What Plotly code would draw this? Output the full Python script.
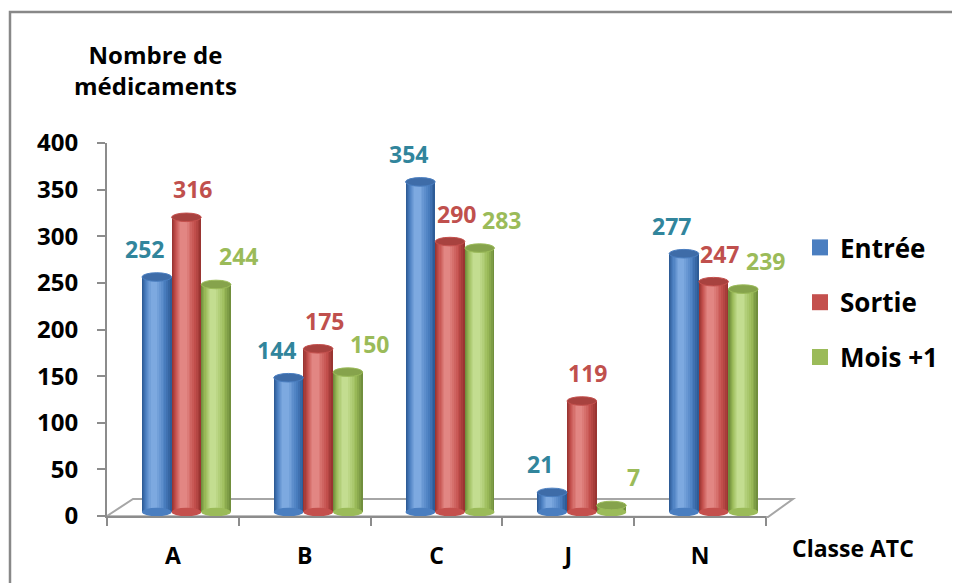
import plotly.graph_objects as go

categories = ["A", "B", "C", "J", "N"]
entree = [252, 144, 354, 21, 277]
sortie = [316, 175, 290, 119, 247]
mois_plus_1 = [244, 150, 283, 7, 239]
series_names = ["Entrée", "Sortie", "Mois +1"]
y_ticks = [0, 50, 100, 150, 200, 250, 300, 350, 400]

# ---- style ----
FONT = "Open Sans"
OFF = 8                                   # default page body margin
W_PX, H_PX = 960 - OFF, 583 - OFF
L, T = 107 - OFF, 143 - OFF
R, B = W_PX - (766 - OFF), H_PX - (516 - OFF)
PW, PH = W_PX - L - R, H_PX - T - B
YMAX = 400
PX_PER_UNIT = PH / YMAX
DEPTH_UNITS = 4 / PX_PER_UNIT          # bars sit a bit "behind" the axis
BAR_W = 0.225
offsets = [-0.235, -0.01, 0.215]
label_shift = [-12, 6, 22]
label_colors = ["#31859C", "#C0504D", "#9BBB59"]
dark = ["#2E5C97", "#9A3532", "#718F3D"]
base = ["#4A7EC0", "#C4504D", "#9BBB59"]
light = ["#7DA9E0", "#E28683", "#C3DD90"]
top_col = ["#3E6CA8", "#A8423F", "#86A34C"]
values = [entree, sortie, mois_plus_1]


def hex2rgb(h):
    h = h.lstrip("#")
    return tuple(int(h[i:i + 2], 16) for i in (0, 2, 4))


def mix(c1, c2, t):
    a, b = hex2rgb(c1), hex2rgb(c2)
    return "rgb(%d,%d,%d)" % tuple(round(a[i] + (b[i] - a[i]) * t) for i in range(3))


def shade(s, t):
    if t < 0.4:
        return mix(dark[s], base[s], t / 0.4)
    return mix(base[s], light[s], (t - 0.4) / 0.6)


def px2paper(px, py):
    """screen pixel of the reference -> paper coords"""
    return ((px - OFF) - L) / PW, ((H_PX - B) - (py - OFF)) / PH


fig = go.Figure()
x_idx = list(range(len(categories)))
N_LAYERS = 9
for s, vals in enumerate(values):
    for k in range(N_LAYERS):
        t = k / (N_LAYERS - 1)
        frac = 1 - 0.78 * t
        center = offsets[s] + BAR_W * (0.5 + (0.40 - 0.5) * t)
        w = BAR_W * frac
        fig.add_trace(go.Bar(
            x=x_idx, y=vals, width=w, offset=center - w / 2,
            marker=dict(color=shade(s, t), line=dict(width=0)),
            yaxis="y2", showlegend=False, hoverinfo="skip",
        ))

shapes = []
annotations = []
EH = 4.6  # half height of the cylinder ellipses (in value units)
for s, vals in enumerate(values):
    for i, v in enumerate(vals):
        x0 = i + offsets[s]
        x1 = x0 + BAR_W
        shapes.append(dict(type="circle", xref="x", yref="y2", x0=x0, x1=x1,
                           y0=-EH, y1=EH, fillcolor=base[s], line=dict(width=0),
                           layer="above"))
        shapes.append(dict(type="circle", xref="x", yref="y2", x0=x0, x1=x1,
                           y0=v - EH, y1=v + EH, fillcolor=top_col[s],
                           line=dict(width=1, color=base[s]), layer="above"))
        annotations.append(dict(
            x=i + offsets[s] + BAR_W / 2, y=v, xref="x", yref="y2",
            text=str(v), showarrow=False, xshift=label_shift[s], yshift=28,
            yanchor="middle", xanchor="center",
            font=dict(family=FONT, size=23, color=label_colors[s], weight="bold")))

# floor
fl = [px2paper(107, 516), px2paper(133, 499), px2paper(793, 499), px2paper(768, 517)]
path = "M %f,%f L %f,%f L %f,%f L %f,%f Z" % (fl[0] + fl[1] + fl[2] + fl[3])
shapes.append(dict(type="path", xref="paper", yref="paper", path=path,
                   fillcolor="white", line=dict(color="#A6A6A6", width=2), layer="below"))
# outer frame (left + top visible)
bx0, by0 = px2paper(10, 600)
bx1, by1 = px2paper(980, 12)
shapes.append(dict(type="path", xref="paper", yref="paper",
                   path="M %f,%f L %f,%f L %f,%f" % (bx0, by0, bx0, by1, bx1, by1),
                   line=dict(color="#888888", width=2.5)))

# legend entries
for s, name in enumerate(series_names):
    fig.add_trace(go.Scatter(x=[None], y=[None], mode="markers", name=name,
                             legendgroup=name,
                             marker=dict(symbol="square", size=18, color=base[s])))

tx, ty = px2paper(155, 70)
annotations.append(dict(x=tx, y=ty, xref="paper", yref="paper",
                        text="Nombre de<br>médicaments", showarrow=False,
                        xanchor="center", yanchor="middle", align="center",
                        font=dict(family=FONT, size=24, color="black", weight="bold")))
cx, cy = px2paper(853, 548)
annotations.append(dict(x=cx, y=cy, xref="paper", yref="paper", text="Classe ATC",
                        showarrow=False, xanchor="center", yanchor="middle",
                        font=dict(family=FONT, size=23, color="black", weight="bold")))

lx, ly = px2paper(800, 224)
fig.update_layout(
    width=W_PX, height=H_PX,
    margin=dict(l=L, r=R, t=T, b=B, pad=0),
    paper_bgcolor="white", plot_bgcolor="rgba(0,0,0,0)",
    barmode="overlay", bargap=0,
    showlegend=True,
    legend=dict(x=lx, y=ly, xanchor="left", yanchor="top",
                font=dict(family=FONT, size=26, color="black", weight="bold"),
                tracegroupgap=18, bgcolor="rgba(0,0,0,0)"),
    xaxis=dict(type="category", range=[-0.5, len(categories) - 0.5],
               tickmode="array", tickvals=x_idx, ticktext=categories,
               tickson="boundaries", ticks="outside", ticklen=8, tickwidth=2,
               tickcolor="#8C8C8C", showline=True, linecolor="#8C8C8C", linewidth=2,
               showgrid=False, zeroline=False, ticklabelstandoff=18,
               tickfont=dict(family=FONT, size=23, color="black", weight="bold")),
    yaxis=dict(range=[0, YMAX], tickvals=y_ticks, ticks="outside", ticklen=8,
               tickwidth=2, tickcolor="#8C8C8C", showline=True, linecolor="#8C8C8C",
               linewidth=2, showgrid=False, zeroline=False, ticklabelstandoff=14,
               tickfont=dict(family=FONT, size=24, color="black", weight="bold")),
    yaxis2=dict(overlaying="y", range=[-DEPTH_UNITS, YMAX - DEPTH_UNITS], visible=False),
    shapes=shapes, annotations=annotations,
)

fig.write_html("out.html")
